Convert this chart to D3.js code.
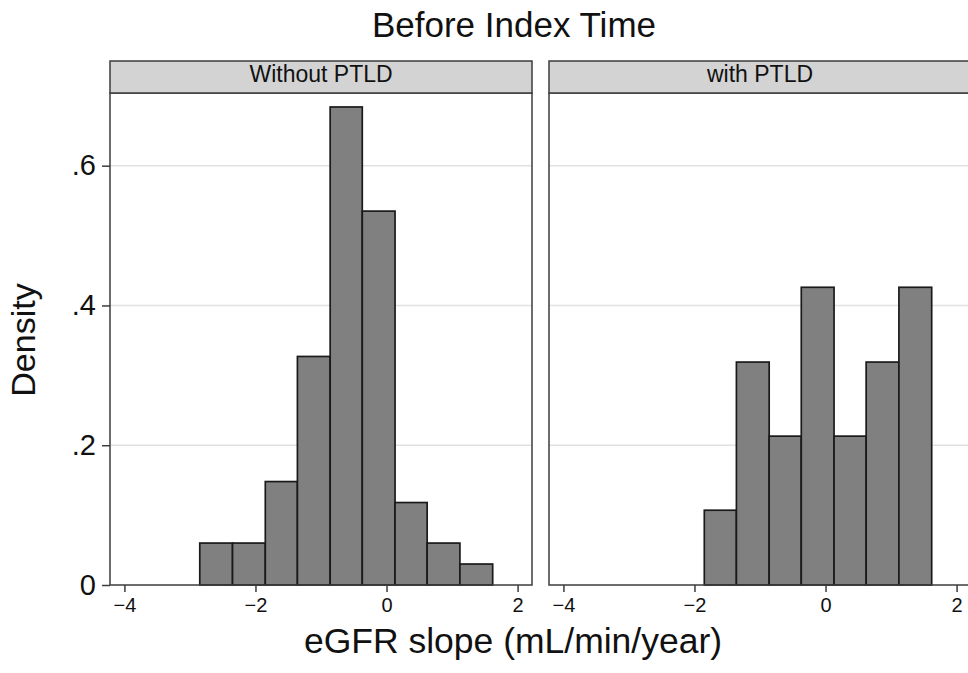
<!DOCTYPE html>
<html>
<head>
<meta charset="utf-8">
<script src="https://cdn.jsdelivr.net/npm/d3@7"></script>
<style>
  body { margin: 0; background: #fff; }
  svg { display: block; font-family: "Liberation Sans", Arial, sans-serif; }
</style>
</head>
<body>
<div id="chart"></div>
<script>
// bin edges shared by both panels (eGFR slope, mL/min/year)
const binEdges = [-2.85, -2.35, -1.85, -1.36, -0.86, -0.37, 0.13, 0.62, 1.12, 1.62];
const panelNames = ["Without PTLD", "with PTLD"];
const withoutDensity = [0.06, 0.06, 0.148, 0.327, 0.684, 0.535, 0.118, 0.06, 0.03];
const withDensity = [0, 0, 0.107, 0.319, 0.213, 0.426, 0.213, 0.319, 0.426];
const xTicks = [-4, -2, 0, 2];
const yTicks = [0, 0.2, 0.4, 0.6];
const yTickLabels = ["0", ".2", ".4", ".6"];

const width = 968, height = 673;
const svg = d3.select("#chart").append("svg")
    .attr("width", width)
    .attr("height", height);

const plotTop = 93, plotBottom = 585, headerTop = 61;
const panelLeft = [110, 549];
const panelW = 422;
const frameColor = "#3c3c3c";

const y = d3.scaleLinear()
    .domain([0, 0.704])
    .range([plotBottom, plotTop]);

const panels = [withoutDensity, withDensity];

panels.forEach(function (vals, p) {
    let x0 = panelLeft[p];
    let x = d3.scaleLinear()
        .domain([-4.22, 2.22])
        .range([x0, x0 + panelW]);

    let g = svg.append("g");

    // gridlines
    g.selectAll("line.grid")
        .data(yTicks.filter(d => d > 0))
        .enter().append("line")
        .attr("class", "grid")
        .attr("x1", x0).attr("x2", x0 + panelW)
        .attr("y1", d => y(d)).attr("y2", d => y(d))
        .attr("stroke", "#e1e1e1")
        .attr("stroke-width", 1.5);

    // bars
    let bins = vals.map((v, i) => ({x0: binEdges[i], x1: binEdges[i + 1], v: v}))
        .filter(d => d.v > 0);
    g.selectAll("rect.bar")
        .data(bins)
        .enter().append("rect")
        .attr("class", "bar")
        .attr("x", d => x(d.x0))
        .attr("width", d => x(d.x1) - x(d.x0))
        .attr("y", d => y(d.v))
        .attr("height", d => y(0) - y(d.v))
        .attr("fill", "#808080")
        .attr("stroke", "#1a1a1a")
        .attr("stroke-width", 1.7);

    // frame
    g.append("rect")
        .attr("x", x0).attr("y", plotTop)
        .attr("width", panelW).attr("height", plotBottom - plotTop)
        .attr("fill", "none")
        .attr("stroke", frameColor)
        .attr("stroke-width", 1.5);

    // header strip
    g.append("rect")
        .attr("x", x0).attr("y", headerTop)
        .attr("width", panelW).attr("height", plotTop - headerTop)
        .attr("fill", "#d3d3d3")
        .attr("stroke", frameColor)
        .attr("stroke-width", 1.5);
    g.append("text")
        .attr("x", x0 + panelW / 2)
        .attr("y", 82)
        .attr("text-anchor", "middle")
        .attr("font-size", 23)
        .attr("fill", "#111")
        .text(panelNames[p]);

    // x axis
    let xAxis = d3.axisBottom(x)
        .tickValues(xTicks)
        .tickSize(7)
        .tickPadding(6)
        .tickFormat(d3.format("d"));
    let ax = g.append("g")
        .attr("transform", "translate(0," + plotBottom + ")")
        .call(xAxis);
    ax.select(".domain").remove();
    ax.selectAll(".tick line").attr("stroke", frameColor).attr("stroke-width", 1.5);
    ax.selectAll(".tick text")
        .attr("font-size", 20)
        .attr("fill", "#111")
        .attr("font-family", "Liberation Sans, Arial, sans-serif");
});

// y axis (left panel only)
let yAxis = d3.axisLeft(y)
    .tickValues(yTicks)
    .tickSize(8)
    .tickPadding(6)
    .tickFormat((d, i) => yTickLabels[i]);
let ay = svg.append("g")
    .attr("transform", "translate(" + panelLeft[0] + ",0)")
    .call(yAxis);
ay.select(".domain").remove();
ay.selectAll(".tick line").attr("stroke", frameColor).attr("stroke-width", 1.5);
ay.selectAll(".tick text")
    .attr("font-size", 29)
    .attr("fill", "#111")
    .attr("font-family", "Liberation Sans, Arial, sans-serif");

// titles
svg.append("text")
    .attr("x", 514).attr("y", 37)
    .attr("text-anchor", "middle")
    .attr("font-size", 35)
    .attr("fill", "#111")
    .text("Before Index Time");

svg.append("text")
    .attr("x", 513).attr("y", 653)
    .attr("text-anchor", "middle")
    .attr("font-size", 35.5)
    .attr("fill", "#111")
    .text("eGFR slope (mL/min/year)");

svg.append("text")
    .attr("transform", "translate(35,340) rotate(-90)")
    .attr("text-anchor", "middle")
    .attr("font-size", 34)
    .attr("fill", "#111")
    .text("Density");
</script>
</body>
</html>
